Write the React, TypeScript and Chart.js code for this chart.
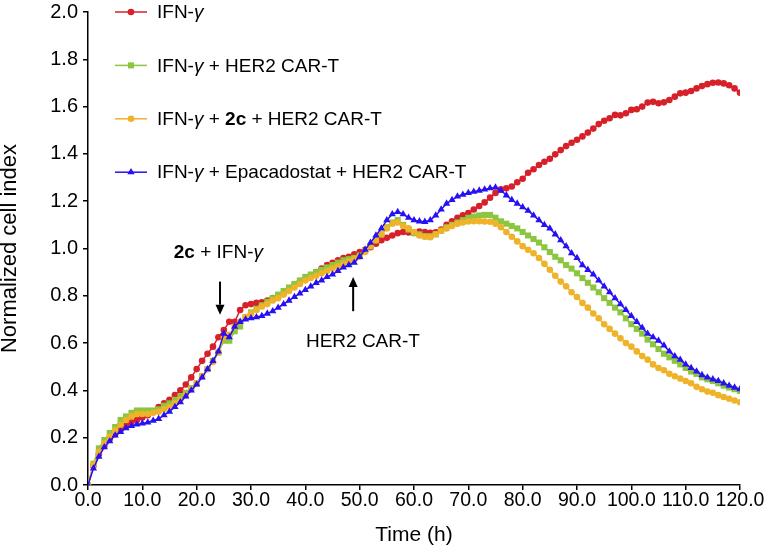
import React, { useEffect, useRef } from 'react';
import { Chart, registerables } from 'chart.js';

Chart.register(...registerables);

// ---------- data ----------
const HOURS: number[] = Array.from({ length: 121 }, (_, i) => i);

const IFN: number[] = [
  0, 0.08, 0.13, 0.165, 0.195, 0.215, 0.235, 0.25, 0.265, 0.275,
  0.285, 0.295, 0.31, 0.33, 0.345, 0.36, 0.38, 0.4, 0.425, 0.455,
  0.49, 0.525, 0.555, 0.585, 0.625, 0.655, 0.69, 0.69, 0.74, 0.76,
  0.765, 0.77, 0.772, 0.78, 0.79, 0.8, 0.81, 0.83, 0.845, 0.86,
  0.87, 0.885, 0.9, 0.915, 0.93, 0.94, 0.95, 0.96, 0.965, 0.975,
  0.985, 0.995, 1.005, 1.02, 1.035, 1.045, 1.055, 1.065, 1.07, 1.068,
  1.066, 1.072, 1.07, 1.066, 1.068, 1.08, 1.1, 1.115, 1.13, 1.14,
  1.15, 1.165, 1.18, 1.195, 1.215, 1.235, 1.25, 1.255, 1.262, 1.28,
  1.295, 1.32, 1.335, 1.353, 1.367, 1.379, 1.398, 1.416, 1.433, 1.447,
  1.46, 1.474, 1.49, 1.507, 1.526, 1.54, 1.551, 1.565, 1.563, 1.572,
  1.586, 1.589, 1.6, 1.617, 1.62, 1.614, 1.618, 1.628, 1.642, 1.656,
  1.659, 1.666, 1.677, 1.687, 1.695, 1.701, 1.702, 1.698, 1.69, 1.677,
  1.659,
];

const IFN_CART: number[] = [
  0, 0.09, 0.155, 0.19, 0.22, 0.245, 0.275, 0.29, 0.305, 0.315,
  0.315, 0.315, 0.315, 0.32, 0.335, 0.345, 0.36, 0.375, 0.39, 0.41,
  0.43, 0.46, 0.49, 0.525, 0.56, 0.61, 0.61, 0.65, 0.67, 0.71,
  0.73, 0.745, 0.76, 0.775, 0.79, 0.805, 0.82, 0.835, 0.85, 0.865,
  0.88, 0.89, 0.9, 0.91, 0.92, 0.93, 0.94, 0.95, 0.955, 0.96,
  0.97, 0.99, 1.01, 1.035, 1.06, 1.09, 1.11, 1.12, 1.1, 1.08,
  1.065, 1.06, 1.052, 1.052, 1.06, 1.075, 1.09, 1.1, 1.11, 1.12,
  1.13, 1.135, 1.14, 1.142, 1.142, 1.13, 1.115, 1.105, 1.095, 1.085,
  1.07, 1.055, 1.04, 1.025, 1.005, 0.985, 0.965, 0.95, 0.93, 0.915,
  0.895, 0.875, 0.855, 0.835, 0.815, 0.79, 0.77, 0.75, 0.73, 0.705,
  0.68, 0.66, 0.64, 0.615, 0.595, 0.575, 0.555, 0.54, 0.525, 0.51,
  0.495, 0.48, 0.47, 0.455, 0.447, 0.44, 0.43, 0.42, 0.412, 0.405,
  0.398,
];

const IFN_2C_CART: number[] = [
  0, 0.085, 0.14, 0.175, 0.205, 0.23, 0.255, 0.275, 0.29, 0.3,
  0.3, 0.3, 0.305, 0.31, 0.32, 0.33, 0.345, 0.36, 0.38, 0.405,
  0.43, 0.46, 0.49, 0.52, 0.56, 0.625, 0.635, 0.67, 0.69, 0.71,
  0.725, 0.74, 0.755, 0.765, 0.78, 0.79, 0.805, 0.82, 0.835, 0.85,
  0.865, 0.875, 0.885, 0.895, 0.905, 0.915, 0.925, 0.935, 0.945, 0.955,
  0.965, 0.985, 1.01, 1.035, 1.06, 1.085, 1.105, 1.11, 1.095, 1.085,
  1.07, 1.055, 1.05, 1.048, 1.06, 1.075, 1.085, 1.095, 1.105, 1.11,
  1.114, 1.115, 1.115, 1.114, 1.113, 1.105, 1.09, 1.07, 1.05, 1.03,
  1.01, 0.995, 0.98, 0.96, 0.935, 0.91, 0.885, 0.86, 0.84, 0.815,
  0.795, 0.77, 0.75, 0.725, 0.705, 0.68, 0.66, 0.64, 0.62, 0.6,
  0.585, 0.565, 0.545, 0.53, 0.51, 0.495, 0.485, 0.47, 0.46, 0.45,
  0.44, 0.43, 0.415, 0.405, 0.395, 0.39, 0.38, 0.372, 0.365, 0.357,
  0.35,
];

const IFN_EPA_CART: number[] = [
  0, 0.07, 0.12, 0.16, 0.185, 0.21, 0.225, 0.24, 0.25, 0.256,
  0.26, 0.265, 0.272, 0.28, 0.295, 0.31, 0.33, 0.35, 0.375, 0.4,
  0.425, 0.455, 0.49, 0.525, 0.565, 0.64, 0.625, 0.67, 0.69, 0.7,
  0.705, 0.71, 0.715, 0.725, 0.735, 0.75, 0.765, 0.78, 0.795, 0.81,
  0.825, 0.84, 0.855, 0.865, 0.88, 0.89, 0.905, 0.92, 0.93, 0.94,
  0.965, 0.995, 1.025, 1.055, 1.085, 1.12, 1.145, 1.155, 1.145, 1.13,
  1.12, 1.115, 1.113, 1.12, 1.14, 1.165, 1.19, 1.205, 1.22, 1.228,
  1.235, 1.24, 1.245, 1.25, 1.255, 1.258, 1.245, 1.225, 1.205, 1.19,
  1.175, 1.16, 1.14, 1.12, 1.1, 1.085, 1.06, 1.035, 1.01, 0.98,
  0.96, 0.93, 0.91, 0.89, 0.865, 0.84, 0.815, 0.79, 0.765, 0.74,
  0.715, 0.69, 0.665, 0.64, 0.625, 0.61, 0.59, 0.565, 0.545, 0.53,
  0.51, 0.495, 0.48, 0.465, 0.455, 0.447, 0.44, 0.43, 0.42, 0.412,
  0.405,
];

const X_MIN = 0;
const X_MAX = 120;
const X_STEP = 10;
const Y_MIN = 0;
const Y_MAX = 2;
const Y_STEP = 0.2;

const X_TITLE = 'Time (h)';
const Y_TITLE = 'Normalized cell index';

type Seg = { t: string; s: 'n' | 'b' | 'i' };

const LEGEND_LABELS: Seg[][] = [
  [{ t: 'IFN-', s: 'n' }, { t: 'γ', s: 'i' }],
  [{ t: 'IFN-', s: 'n' }, { t: 'γ', s: 'i' }, { t: ' + HER2 CAR-T', s: 'n' }],
  [{ t: 'IFN-', s: 'n' }, { t: 'γ', s: 'i' }, { t: ' + ', s: 'n' }, { t: '2c', s: 'b' }, { t: ' + HER2 CAR-T', s: 'n' }],
  [{ t: 'IFN-', s: 'n' }, { t: 'γ', s: 'i' }, { t: ' + Epacadostat + HER2 CAR-T', s: 'n' }],
];

const ANNOT_2C: Seg[] = [{ t: '2c', s: 'b' }, { t: ' + IFN-', s: 'n' }, { t: 'γ', s: 'i' }];
const ANNOT_HER2: Seg[] = [{ t: 'HER2 CAR-T', s: 'n' }];
// annotation anchors in data units (hour, value)
const ANNOT_2C_POS = { x: 24.0, y: 0.982 };
const ARROW_2C = { x: 24.3, from: 0.86, to: 0.72 };
const ANNOT_HER2_POS = { x: 50.6, y: 0.607 };
const ARROW_HER2 = { x: 48.8, from: 0.735, to: 0.88 };

const COLORS = ['#d7202a', '#8cc63f', '#efb329', '#2810f5'];
const POINT_STYLES = ['circle', 'rect', 'circle', 'triangle'];
const POINT_RADII = [3.3, 4.3, 3.3, 4.2];

const FONT = '"Liberation Sans", Arial, Helvetica, sans-serif';
const FS = 19;

function fontFor(s: 'n' | 'b' | 'i') {
  if (s === 'b') return `bold ${FS}px ${FONT}`;
  if (s === 'i') return `italic ${FS}px ${FONT}`;
  return `${FS}px ${FONT}`;
}

function segWidth(ctx: CanvasRenderingContext2D, segs: Seg[]) {
  let w = 0;
  for (const sg of segs) {
    ctx.font = fontFor(sg.s);
    w += ctx.measureText(sg.t).width;
  }
  return w;
}

function drawSegs(ctx: CanvasRenderingContext2D, segs: Seg[], x: number, y: number) {
  let cx = x;
  ctx.textAlign = 'left';
  ctx.textBaseline = 'middle';
  ctx.fillStyle = '#000';
  for (const sg of segs) {
    ctx.font = fontFor(sg.s);
    ctx.fillText(sg.t, cx, y);
    cx += ctx.measureText(sg.t).width;
  }
}

function drawMarker(ctx: CanvasRenderingContext2D, style: string, r: number, x: number, y: number, color: string) {
  ctx.fillStyle = color;
  ctx.beginPath();
  if (style === 'circle') {
    ctx.arc(x, y, r, 0, Math.PI * 2);
  } else if (style === 'rect') {
    const s = r * Math.SQRT1_2;
    ctx.rect(x - s, y - s, 2 * s, 2 * s);
  } else {
    const h = r * 1.5;
    const w = r * Math.sqrt(3) / 2;
    ctx.moveTo(x - w, y + h / 3);
    ctx.lineTo(x + w, y + h / 3);
    ctx.lineTo(x, y - (2 * h) / 3);
    ctx.closePath();
  }
  ctx.fill();
}

function drawArrow(ctx: CanvasRenderingContext2D, x: number, yTail: number, yTip: number) {
  const dir = yTip > yTail ? 1 : -1;
  const headLen = 10;
  const headHalf = 4.5;
  ctx.save();
  ctx.strokeStyle = '#000';
  ctx.fillStyle = '#000';
  ctx.lineWidth = 2;
  ctx.beginPath();
  ctx.moveTo(x, yTail);
  ctx.lineTo(x, yTip - dir * headLen);
  ctx.stroke();
  ctx.beginPath();
  ctx.moveTo(x, yTip);
  ctx.lineTo(x - headHalf, yTip - dir * headLen);
  ctx.lineTo(x + headHalf, yTip - dir * headLen);
  ctx.closePath();
  ctx.fill();
  ctx.restore();
}

const overlayPlugin = {
  id: 'overlay',
  afterDatasetsDraw(chart: any) {
    const { ctx, chartArea, scales } = chart;
    const xs = scales.x;
    const ys = scales.y;
    ctx.save();
    // legend
    const rowGap = 53.4;
    const lx0 = chartArea.left + 27;
    const lx1 = chartArea.left + 59;
    const lmx = (lx0 + lx1) / 2;
    const ltx = chartArea.left + 69;
    LEGEND_LABELS.forEach((segs, i) => {
      const yy = chartArea.top + i * rowGap;
      ctx.strokeStyle = COLORS[i];
      ctx.lineWidth = 1.5;
      ctx.beginPath();
      ctx.moveTo(lx0, yy);
      ctx.lineTo(lx1, yy);
      ctx.stroke();
      drawMarker(ctx, POINT_STYLES[i], POINT_RADII[i], lmx, yy, COLORS[i]);
      drawSegs(ctx, segs, ltx, yy + 1);
    });
    // annotations
    const w1 = segWidth(ctx, ANNOT_2C);
    drawSegs(ctx, ANNOT_2C, xs.getPixelForValue(ANNOT_2C_POS.x) - w1 / 2, ys.getPixelForValue(ANNOT_2C_POS.y));
    drawArrow(ctx, xs.getPixelForValue(ARROW_2C.x), ys.getPixelForValue(ARROW_2C.from), ys.getPixelForValue(ARROW_2C.to));
    const w2 = segWidth(ctx, ANNOT_HER2);
    drawSegs(ctx, ANNOT_HER2, xs.getPixelForValue(ANNOT_HER2_POS.x) - w2 / 2, ys.getPixelForValue(ANNOT_HER2_POS.y));
    drawArrow(ctx, xs.getPixelForValue(ARROW_HER2.x), ys.getPixelForValue(ARROW_HER2.from), ys.getPixelForValue(ARROW_HER2.to));
    ctx.restore();
  },
};

const SERIES = [
  { name: 'IFN-γ', values: IFN },
  { name: 'IFN-γ + HER2 CAR-T', values: IFN_CART },
  { name: 'IFN-γ + 2c + HER2 CAR-T', values: IFN_2C_CART },
  { name: 'IFN-γ + Epacadostat + HER2 CAR-T', values: IFN_EPA_CART },
];

export default function App() {
  const ref = useRef<HTMLCanvasElement | null>(null);

  useEffect(() => {
    if (!ref.current) return;
    const chart = new Chart(ref.current, {
      type: 'line',
      data: {
        datasets: SERIES.map((s, i) => ({
          label: s.name,
          data: HOURS.map((h, j) => ({ x: h, y: s.values[j] })),
          borderColor: COLORS[i],
          backgroundColor: COLORS[i],
          borderWidth: 1.5,
          pointStyle: POINT_STYLES[i] as any,
          pointRadius: POINT_RADII[i],
          pointBorderWidth: 0,
          pointBackgroundColor: COLORS[i],
          tension: 0,
          order: 4 - i,
        })),
      },
      options: {
        animation: false,
        responsive: false,
        devicePixelRatio: 1,
        layout: { padding: { left: 0, right: 27, top: 8, bottom: 0 } },
        plugins: {
          legend: { display: false },
          tooltip: { enabled: false },
        },
        scales: {
          x: {
            type: 'linear',
            min: X_MIN,
            max: X_MAX,
            afterFit: (scale: any) => { scale.height = 74; },
            ticks: {
              stepSize: X_STEP,
              autoSkip: false,
              maxRotation: 0,
              padding: 1,
              color: '#000',
              font: { family: FONT, size: 19.5, lineHeight: 1 },
              callback: (v: any) => Number(v).toFixed(1),
            },
            grid: { display: true, drawOnChartArea: false, drawTicks: true, tickLength: 5, color: '#000', lineWidth: 1.5 },
            border: { display: true, color: '#000', width: 1.5 },
            title: {
              display: true,
              text: X_TITLE,
              color: '#000',
              font: { family: FONT, size: 21, lineHeight: 1.2 },
              padding: { top: 0, bottom: 11 },
            },
          },
          y: {
            type: 'linear',
            min: Y_MIN,
            max: Y_MAX,
            afterFit: (scale: any) => { scale.width = 88; },
            ticks: {
              stepSize: Y_STEP,
              padding: 5,
              color: '#000',
              font: { family: FONT, size: 20, lineHeight: 0.7 },
              callback: (v: any) => Number(v).toFixed(1),
            },
            grid: { display: true, drawOnChartArea: false, drawTicks: true, tickLength: 5, color: '#000', lineWidth: 1.5 },
            border: { display: true, color: '#000', width: 1.5 },
            title: {
              display: true,
              text: Y_TITLE,
              color: '#000',
              font: { family: FONT, size: 22, lineHeight: 0.9 },
              padding: { top: 0, bottom: 0 },
            },
          },
        },
      },
      plugins: [overlayPlugin],
    });
    return () => chart.destroy();
  }, []);

  return (
    <div style={{ position: 'absolute', left: 0, top: 0, width: 767, height: 559, background: '#fff' }}>
      <canvas ref={ref} width={767} height={559} style={{ display: 'block' }} />
    </div>
  );
}
